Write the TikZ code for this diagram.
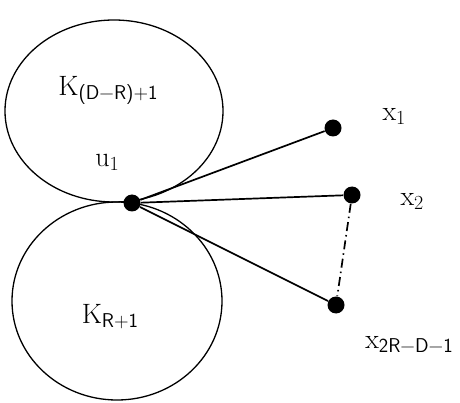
\documentclass[tikz,border=0pt]{standalone}
\usepackage{fontspec}
\usepackage{tikz}
\usetikzlibrary{shapes.geometric, positioning}
\newcommand{\sbs}[1]{\raisebox{-4pt}{\fontsize{20}{22}\selectfont\sffamily #1}}
\newcommand{\sbn}[1]{\raisebox{-4pt}{\fontsize{20}{22}\selectfont #1}}

\begin{document}
\begin{tikzpicture}[x=1pt,y=-1pt,thick,
    blob/.style={draw,ellipse,line width=1.3pt,inner sep=0pt},
    vert/.style={circle,fill=black,inner sep=0pt,minimum size=17pt},
    lbl/.style={font=\fontsize{28}{31}\selectfont,inner sep=0pt}]
    \useasboundingbox (0,0) rectangle (460,403);
    % the two cliques
    \node[blob,minimum width=218pt,minimum height=182pt] (Ktop) at (114,111) {};
    \node[blob,minimum width=210pt,minimum height=198pt] (Kbot) at (117,301) {};
    \node[lbl] (lKtop) at (108,90) {K\sbs{(D−R)+1}};
    \node[lbl] (lKbot) at (110,317) {K\sbs{R+1}};
    % vertices
    \node[vert] (u1) at (132,203) {};
    \node[vert] (x1) at (333,128) {};
    \node[vert] (x2) at (352,195) {};
    \node[vert] (x3) at (336,305) {};
    \node[lbl] (lu1) at (107,162) {u\sbn{1}};
    \node[lbl] (lx1) at (394,116) {x\sbn{1}};
    \node[lbl] (lx2) at (412,201) {x\sbn{2}};
    \node[lbl] (lx3) at (409,344) {x\sbs{2R−D−1}};

    % edges from u1
    \draw[line width=1.7pt] (u1) -- (x1)
          (u1) -- (x2)
          (u1) -- (x3);
    \draw[line width=1.7pt,dash pattern=on 9pt off 4pt on 1.5pt off 4pt] (x2) -- (x3);
\end{tikzpicture}
\end{document}
